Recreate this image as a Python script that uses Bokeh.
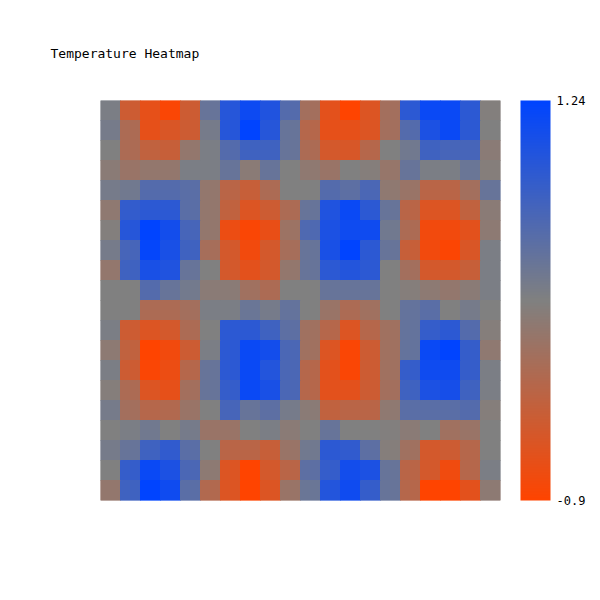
from bokeh.plotting import figure
from bokeh.models import ColumnDataSource, LinearColorMapper, ColorBar, FixedTicker, Range1d
from bokeh.embed import file_html
from bokeh.resources import INLINE

title_text = "Temperature Heatmap"
value_low = -0.9
value_high = 1.24

row_0 = [0.22, -0.47, -0.69, -0.85, -0.47, 0.38, 0.92, 1.13, 0.97, 0.54, -0.13, -0.66, -0.90, -0.60, -0.13, 0.87, 1.15, 1.15, 0.87, 0.14]
row_1 = [0.26, -0.20, -0.69, -0.58, -0.47, 0.26, 0.92, 1.24, 0.92, 0.38, -0.28, -0.69, -0.69, -0.60, -0.13, 0.54, 1.00, 1.15, 0.87, 0.17]
row_2 = [0.17, -0.20, -0.37, -0.42, 0.01, 0.22, 0.54, 0.71, 0.71, 0.38, -0.20, -0.53, -0.56, -0.28, 0.17, 0.30, 0.71, 0.65, 0.65, 0.08]
row_3 = [0.08, -0.04, 0.01, 0.01, 0.22, 0.22, 0.38, 0.08, 0.38, 0.17, 0.04, -0.04, 0.17, 0.12, -0.02, 0.38, 0.22, 0.22, 0.36, 0.12]
row_4 = [0.26, 0.30, 0.54, 0.54, 0.49, 0.01, -0.31, -0.42, -0.20, 0.17, 0.17, 0.54, 0.47, 0.62, 0.04, -0.04, -0.31, -0.31, -0.13, 0.38]
row_5 = [0.04, 0.81, 0.87, 0.87, 0.49, 0.01, -0.37, -0.60, -0.47, -0.20, 0.38, 0.97, 1.15, 0.87, 0.38, -0.31, -0.60, -0.60, -0.37, 0.08]
row_6 = [0.14, 0.92, 1.24, 1.08, 0.65, 0.01, -0.74, -0.85, -0.71, -0.07, 0.58, 1.00, 1.11, 1.11, 0.30, -0.20, -0.79, -0.79, -0.66, 0.06]
row_7 = [0.26, 0.65, 1.19, 1.03, 0.71, -0.15, -0.53, -0.79, -0.53, -0.15, 0.38, 1.03, 1.24, 0.87, 0.38, -0.42, -0.79, -0.87, -0.58, 0.22]
row_8 = [0.01, 0.71, 1.03, 0.97, 0.38, 0.17, -0.53, -0.66, -0.53, 0.01, 0.38, 0.87, 0.94, 0.87, 0.17, -0.13, -0.53, -0.53, -0.42, 0.22]
row_9 = [0.17, 0.17, 0.54, 0.38, 0.28, 0.08, 0.08, -0.10, -0.20, 0.17, 0.17, 0.38, 0.38, 0.38, 0.17, 0.12, 0.06, 0.01, 0.08, 0.22]
row_10 = [0.17, 0.17, -0.20, -0.20, -0.13, 0.22, 0.22, 0.36, 0.26, 0.41, 0.17, -0.04, -0.20, -0.10, 0.17, 0.41, 0.49, 0.17, 0.26, 0.17]
row_11 = [0.22, -0.47, -0.60, -0.53, -0.20, 0.17, 0.87, 0.87, 0.71, 0.47, -0.10, -0.28, -0.60, -0.28, -0.10, 0.41, 0.79, 0.87, 0.54, 0.12]
row_12 = [0.06, -0.37, -0.90, -0.79, -0.47, 0.22, 0.87, 1.15, 1.08, 0.62, -0.10, -0.60, -0.85, -0.47, -0.10, 0.41, 1.15, 1.24, 0.79, 0.04]
row_13 = [0.22, -0.47, -0.85, -0.74, -0.28, 0.38, 0.87, 1.15, 0.94, 0.62, -0.28, -0.66, -0.85, -0.47, -0.10, 0.79, 1.11, 1.11, 0.79, 0.22]
row_14 = [0.12, -0.20, -0.60, -0.69, -0.13, 0.38, 0.79, 1.15, 1.03, 0.62, -0.28, -0.66, -0.66, -0.47, -0.13, 0.71, 1.00, 1.05, 0.71, 0.22]
row_15 = [0.26, -0.13, -0.28, -0.24, -0.04, 0.17, 0.65, 0.38, 0.47, 0.26, 0.08, -0.37, -0.31, -0.31, 0.04, 0.49, 0.49, 0.49, 0.54, 0.12]
row_16 = [0.17, 0.22, 0.30, 0.17, 0.26, -0.04, -0.04, 0.17, 0.22, 0.08, 0.17, 0.38, 0.17, 0.17, 0.15, 0.08, 0.17, -0.10, -0.04, 0.17]
row_17 = [0.26, 0.38, 0.71, 0.83, 0.49, 0.17, -0.31, -0.31, -0.42, -0.04, 0.30, 0.87, 0.83, 0.47, 0.12, -0.10, -0.53, -0.47, -0.28, 0.17]
row_18 = [0.17, 0.79, 1.15, 1.00, 0.62, 0.06, -0.60, -0.90, -0.53, -0.31, 0.47, 0.79, 1.08, 1.00, 0.38, -0.31, -0.53, -0.77, -0.28, 0.22]
row_19 = [0.01, 0.71, 1.24, 1.11, 0.49, -0.24, -0.60, -0.90, -0.60, -0.04, 0.36, 0.94, 1.11, 0.79, 0.38, -0.28, -0.90, -0.90, -0.66, 0.06]

rows = [row_0, row_1, row_2, row_3, row_4, row_5, row_6, row_7, row_8, row_9,
        row_10, row_11, row_12, row_13, row_14, row_15, row_16, row_17, row_18, row_19]

# palette: red -> grey -> blue
def lerp_hex(c1, c2, t):
    return "#%02x%02x%02x" % tuple(int(round(a + (b - a) * t)) for a, b in zip(c1, c2))

red = (255, 68, 0)
grey = (128, 128, 128)
blue = (0, 68, 255)
n = 128
palette = [lerp_hex(red, grey, i / (n - 1)) for i in range(n)] + \
          [lerp_hex(grey, blue, i / (n - 1)) for i in range(n)]

xs, ys, vs = [], [], []
for r, row in enumerate(rows):
    for c, v in enumerate(row):
        xs.append(c)
        ys.append(r)
        vs.append(v)

source = ColumnDataSource(dict(x=xs, y=ys, v=vs))
mapper = LinearColorMapper(palette=palette, low=value_low, high=value_high)

nrows = len(rows)
ncols = len(rows[0])

p = figure(frame_width=400, frame_height=400,
           x_range=Range1d(-0.5, ncols - 0.5), y_range=Range1d(nrows - 0.5, -0.5),
           output_backend="svg", toolbar_location=None,
           min_border_left=100, min_border_right=90, min_border_top=100, min_border_bottom=90,
           title=title_text)

p.rect(x="x", y="y", width=1, height=1, source=source,
       fill_color={"field": "v", "transform": mapper},
       line_color={"field": "v", "transform": mapper}, line_width=1)

p.axis.visible = False
p.grid.visible = False
p.outline_line_color = None
p.background_fill_color = "white"

p.title.text_font = "DejaVu Sans Mono"
p.title.text_font_size = "13px"
p.title.text_font_style = "normal"
p.title.text_color = "black"
p.title.align = "left"
p.title.offset = -50
p.title.standoff = 80

color_bar = ColorBar(color_mapper=mapper,
                     ticker=FixedTicker(ticks=[value_low, value_high]),
                     major_label_overrides={value_low: "-0.9", value_high: "1.24"},
                     width=30, height=400, location=(20, 0),
                     padding=0, margin=0, label_standoff=6,
                     major_tick_line_color=None, minor_tick_line_color=None,
                     bar_line_color=None, border_line_color=None,
                     background_fill_alpha=0,
                     major_label_text_font="DejaVu Sans Mono",
                     major_label_text_font_size="12px",
                     major_label_text_color="black")
p.add_layout(color_bar, "right")

open("out.html", "w").write(file_html(p, INLINE))
